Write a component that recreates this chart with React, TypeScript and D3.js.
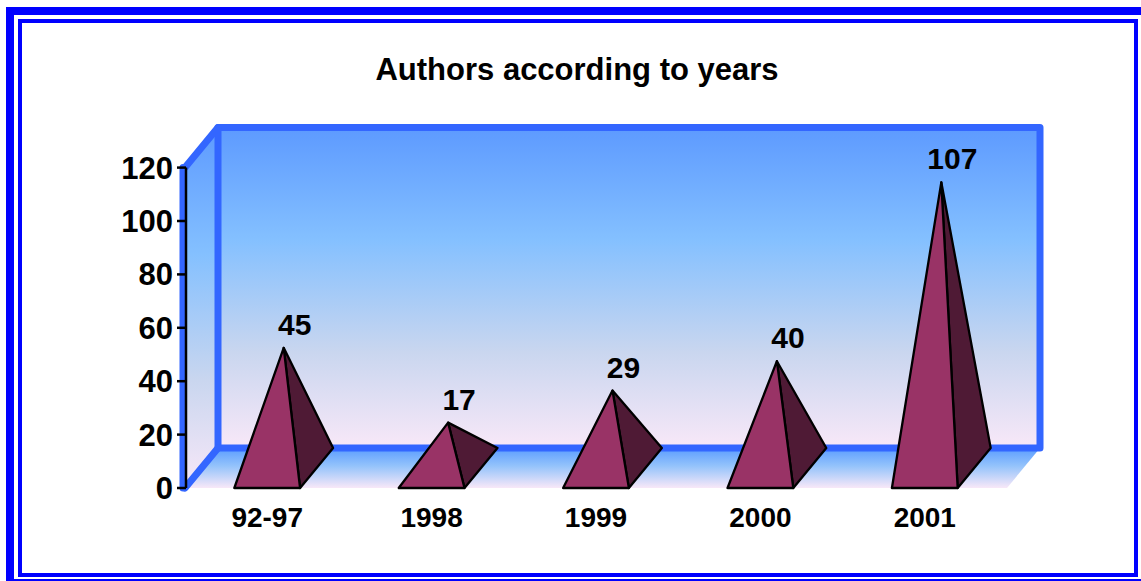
import React from "react";
import * as d3 from "d3";

const categories = ["92-97", "1998", "1999", "2000", "2001"];
const values = [45, 17, 29, 40, 107];
const yTicks = [0, 20, 40, 60, 80, 100, 120];
const title = "Authors according to years";

const W = 1141;
const H = 581;
const FONT = "'Liberation Sans', Arial, Helvetica, sans-serif";

export default function App() {
  const left = 185;
  const right = 1007;
  const bottom = 488;
  const top = 167.6;
  const dx = 33;
  const dy = -40;

  const x = d3.scaleBand<string>().domain(categories).range([left, right]).padding(0);
  const y = d3.scaleLinear().domain([0, 120]).range([bottom, top]);
  const bw = x.bandwidth();
  const pw = bw * 0.4;

  const y0 = y(0);
  const yMax = y(120);

  const backWall = [
    [left + dx, y0 + dy],
    [right + dx, y0 + dy],
    [right + dx, yMax + dy],
    [left + dx, yMax + dy],
  ];
  const leftWall = [
    [left, y0],
    [left + dx, y0 + dy],
    [left + dx, yMax + dy],
    [left, yMax],
  ];
  const floor = [
    [left, y0],
    [right, y0],
    [right + dx, y0 + dy],
    [left + dx, y0 + dy],
  ];
  const pts = (p: number[][]) => p.map((q) => q.join(",")).join(" ");
  const line = d3.line();

  const edge = "#3366ff";
  const ew = 7;

  return (
    <svg
      width={W}
      height={H}
      style={{ position: "absolute", left: 0, top: 0, background: "#fff" }}
      fontFamily={FONT}
    >
      <defs>
        <linearGradient id="wallGrad" x1="0" y1="0" x2="0" y2="1">
          <stop offset="0" stopColor="#5d9aff" />
          <stop offset="0.35" stopColor="#84c0ff" />
          <stop offset="0.7" stopColor="#c9d6ef" />
          <stop offset="1" stopColor="#f8e8f8" />
        </linearGradient>
        <linearGradient id="floorGrad" x1="0" y1="0" x2="0" y2="1">
          <stop offset="0" stopColor="#5a9cff" />
          <stop offset="0.45" stopColor="#94c3fb" />
          <stop offset="1" stopColor="#f8e8f8" />
        </linearGradient>
      </defs>

      {/* frame */}
      <rect x={10} y={11} width={1141} height={572} fill="none" stroke="#0000ff" strokeWidth={8} />
      <rect x={20} y={21} width={1116} height={554} fill="none" stroke="#0000ff" strokeWidth={4} />

      <text x={577} y={80} textAnchor="middle" fontSize={31} fontWeight="bold">
        {title}
      </text>

      {/* walls */}
      <polygon points={pts(backWall)} fill="url(#wallGrad)" />
      <polygon points={pts(leftWall)} fill="url(#wallGrad)" />
      <polygon points={pts(floor)} fill="url(#floorGrad)" />

      <g stroke={edge} strokeWidth={ew} fill="none" strokeLinejoin="round" strokeLinecap="round">
        <path d={line(backWall.concat([backWall[0]]) as [number, number][]) || ""} />
        <path d={line([[left, y0], [left + dx, y0 + dy]]) || ""} />
        <path d={line([[left, yMax], [left + dx, yMax + dy]]) || ""} />
        <path d={line([[left - 2, y0], [left - 2, yMax]]) || ""} />
      </g>

      {/* pyramids */}
      {categories.map((c, i) => {
        const cx = (x(c) as number) + bw / 2;
        const v = values[i];
        const apex: [number, number] = [cx + dx / 2, y(v) + dy / 2];
        const fl: [number, number] = [cx - pw / 2, y0];
        const fr: [number, number] = [cx + pw / 2, y0];
        const br: [number, number] = [cx + pw / 2 + dx, y0 + dy];
        return (
          <g key={c} stroke="#000" strokeWidth={2.3} strokeLinejoin="round">
            <polygon points={pts([fr, br, apex])} fill="#4f1a35" />
            <polygon points={pts([fl, fr, apex])} fill="#993366" />
            <text
              x={apex[0] + 11}
              y={apex[1] - 13}
              textAnchor="middle"
              fontSize={30}
              fontWeight="bold"
              stroke="none"
              fill="#000"
            >
              {v}
            </text>
          </g>
        );
      })}

      {/* y axis */}
      <g>
        <line x1={left + 1} x2={left + 1} y1={y0} y2={yMax} stroke="#000" strokeWidth={2.5} />
        {yTicks.map((t) => (
          <g key={t}>
            <line x1={left - 8} x2={left + 1} y1={y(t)} y2={y(t)} stroke="#000" strokeWidth={2.5} />
            <text
              x={173}
              y={y(t) + 11}
              textAnchor="end"
              fontSize={31}
              fontWeight="bold"
              fill="#000"
            >
              {t}
            </text>
          </g>
        ))}
      </g>

      {/* x labels */}
      {categories.map((c) => (
        <text
          key={c}
          x={(x(c) as number) + bw / 2}
          y={527}
          textAnchor="middle"
          fontSize={28}
          fontWeight="bold"
          fill="#000"
        >
          {c}
        </text>
      ))}
    </svg>
  );
}
